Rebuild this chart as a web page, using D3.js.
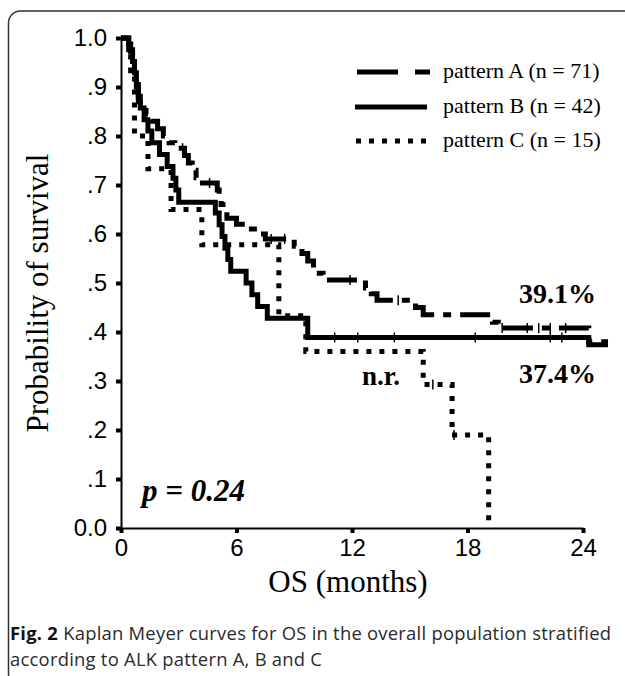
<!DOCTYPE html>
<html><head><meta charset="utf-8">
<script src="https://cdn.jsdelivr.net/npm/d3@7"></script>
<style>body{margin:0;background:#fff}svg{display:block}</style>
</head><body>
<svg id="c" width="625" height="676"></svg>
<script>
// ---- data ----
const seriesNames = ["pattern A (n = 71)", "pattern B (n = 42)", "pattern C (n = 15)"];
const timesA = [0, 0.4, 0.5, 0.6, 0.7, 0.8, 0.9, 1.0, 1.3, 1.6, 1.9, 2.2, 2.5, 2.8, 3.3, 3.5, 3.7, 3.9, 4.1, 5.0, 5.1, 5.2, 5.3, 5.5, 6.0, 6.5, 7.2, 7.5, 9.0, 9.4, 9.7, 10.0, 10.3, 10.5, 12.7, 13.0, 13.3, 15.3, 15.7, 19.3, 19.6, 24.3, 25.3];
const survA  = [1.0, 0.986, 0.972, 0.958, 0.93, 0.90, 0.87, 0.86, 0.845, 0.83, 0.815, 0.80, 0.786, 0.775, 0.76, 0.745, 0.73, 0.715, 0.704, 0.69, 0.675, 0.66, 0.645, 0.632, 0.62, 0.61, 0.60, 0.59, 0.575, 0.56, 0.545, 0.53, 0.52, 0.506, 0.49, 0.478, 0.465, 0.45, 0.435, 0.42, 0.408, 0.38, 0.38];
const censorA = [3.2, 4.6, 7.8, 8.5, 11.9, 14.4, 19.8, 21.1, 21.7, 22.3, 23.1];

const timesB = [0, 0.4, 0.6, 0.7, 0.8, 0.9, 1.0, 1.2, 1.4, 1.6, 2.0, 2.4, 2.7, 2.85, 3.0, 4.9, 5.1, 5.25, 5.4, 5.55, 5.7, 6.5, 6.8, 7.1, 7.6, 9.7, 24.3, 25.3];
const survB  = [1.0, 0.976, 0.952, 0.929, 0.905, 0.881, 0.857, 0.833, 0.81, 0.786, 0.762, 0.738, 0.714, 0.69, 0.665, 0.643, 0.619, 0.595, 0.571, 0.548, 0.524, 0.50, 0.476, 0.452, 0.428, 0.389, 0.374, 0.374];
const censorB = [11.1, 12.3, 14.2, 18.4, 22.3, 22.9];

const timesC = [0, 0.5, 0.7, 1.4, 2.6, 4.2, 8.2, 9.6, 15.7, 17.2, 19.1];
const survC  = [1.0, 0.933, 0.80, 0.733, 0.65, 0.578, 0.433, 0.36, 0.293, 0.19, 0.0];
const censorC = [16.2, 17.3];

const xTicks = [0, 6, 12, 18, 24];
const yTicks = [0, 0.1, 0.2, 0.3, 0.4, 0.5, 0.6, 0.7, 0.8, 0.9, 1.0];
const yTickLabels = ["0.0", ".1", ".2", ".3", ".4", ".5", ".6", ".7", ".8", ".9", "1.0"];
const annotations = ["39.1%", "37.4%", "n.r."];

// ---- drawing ----
const svg = d3.select("#c");
const serif = "'Liberation Serif','Times New Roman',serif";
const sans = "'Liberation Sans',Arial,sans-serif";

// frame
svg.append("rect").attr("x", 8.5).attr("y", 11).attr("width", 660).attr("height", 675)
  .attr("rx", 12).attr("fill", "none").attr("stroke", "#333").attr("stroke-width", 1.5);

const x = d3.scaleLinear().domain([0, 24]).range([121, 583]);
const y = d3.scaleLinear().domain([0, 1]).range([528, 38]);

// axes
const gx = svg.append("g").attr("transform", `translate(0,${y(0)})`)
  .call(d3.axisBottom(x).tickValues(xTicks).tickSize(5).tickSizeOuter(0).tickPadding(5).tickFormat(d3.format("d")));
const gy = svg.append("g").attr("transform", `translate(${x(0)},0)`)
  .call(d3.axisLeft(y).tickValues(yTicks).tickSize(5).tickSizeOuter(0).tickPadding(9).tickFormat((d, i) => yTickLabels[i]));
[gx, gy].forEach(g => {
  g.select(".domain").attr("stroke", "#000").attr("stroke-width", 2);
  g.selectAll(".tick line").attr("stroke", "#000").attr("stroke-width", 4);
  g.selectAll(".tick text").attr("fill", "#000").style("font-family", sans).style("font-size", "24px");
});
gx.selectAll(".tick text").attr("dy", "0.75em");

// curves
const line = d3.line().curve(d3.curveStepAfter).x(d => x(d[0])).y(d => y(d[1]));
function stepVal(ts, ss, t) { let v = ss[0]; for (let i = 0; i < ts.length; i++) if (ts[i] <= t) v = ss[i]; return v; }
const series = [
  {t: timesA, s: survA, c: censorA, dash: "30,9,8,9"},
  {t: timesB, s: survB, c: censorB, dash: null},
  {t: timesC, s: survC, c: censorC, dash: "5,8"}
];
series.forEach(sr => {
  const pts = sr.t.map((t, i) => [t, sr.s[i]]);
  svg.append("path").attr("d", line(pts)).attr("fill", "none").attr("stroke", "#000")
    .attr("stroke-width", 5).attr("stroke-dasharray", sr.dash);
  svg.append("g").selectAll("line").data(sr.c).join("line")
    .attr("x1", d => x(d)).attr("x2", d => x(d))
    .attr("y1", d => y(stepVal(sr.t, sr.s, d)) - 5).attr("y2", d => y(stepVal(sr.t, sr.s, d)) + 5)
    .attr("stroke", "#000").attr("stroke-width", 1.5);
});

// legend
const lg = svg.append("g");
lg.append("line").attr("x1", 357).attr("x2", 398).attr("y1", 72).attr("y2", 72).attr("stroke", "#000").attr("stroke-width", 5);
lg.append("line").attr("x1", 415).attr("x2", 430).attr("y1", 72).attr("y2", 72).attr("stroke", "#000").attr("stroke-width", 5);
lg.append("line").attr("x1", 355).attr("x2", 427).attr("y1", 107).attr("y2", 107).attr("stroke", "#000").attr("stroke-width", 5);
lg.append("line").attr("x1", 356).attr("x2", 430).attr("y1", 141).attr("y2", 141).attr("stroke", "#000").attr("stroke-width", 5).attr("stroke-dasharray", "5,8");
lg.selectAll("text").data(seriesNames).join("text")
  .attr("x", 443).attr("y", (d, i) => 78 + i * 34.5).text(d => d)
  .style("font-family", serif).style("font-size", "22px").attr("fill", "#000");

// axis titles
svg.append("text").attr("x", 348).attr("y", 592).attr("text-anchor", "middle").text("OS (months)")
  .style("font-family", serif).style("font-size", "31px");
svg.append("text").attr("transform", "translate(48,293) rotate(-90)").attr("text-anchor", "middle")
  .text("Probability of survival").style("font-family", serif).style("font-size", "31px");

// annotations
svg.append("text").attr("x", 142).attr("y", 501).style("font-family", serif).style("font-size", "31px")
  .style("font-weight", "bold").style("font-style", "italic").text("p = 0.24");
svg.append("text").attr("x", 596).attr("y", 303).attr("text-anchor", "end").style("font-family", serif)
  .style("font-size", "28px").style("font-weight", "bold").text(annotations[0]);
svg.append("text").attr("x", 596).attr("y", 383).attr("text-anchor", "end").style("font-family", serif)
  .style("font-size", "28px").style("font-weight", "bold").text(annotations[1]);
svg.append("text").attr("x", 362).attr("y", 385).style("font-family", serif)
  .style("font-size", "27px").style("font-weight", "bold").text(annotations[2]);

// caption
const cap = svg.append("text").attr("x", 10).attr("y", 640).style("font-family", "'Open Sans',sans-serif")
  .style("font-size", "18.4px").style("letter-spacing", "0.25px").attr("fill", "#2a2a2a");
cap.append("tspan").style("font-weight", "bold").attr("fill", "#111").text("Fig. 2");
cap.append("tspan").text(" Kaplan Meyer curves for OS in the overall population stratified");
svg.append("text").attr("x", 10).attr("y", 666).style("font-family", "'Open Sans',sans-serif")
  .style("font-size", "18.4px").style("letter-spacing", "0.25px").attr("fill", "#2a2a2a")
  .text("according to ALK pattern A, B and C");
</script>
</body></html>
